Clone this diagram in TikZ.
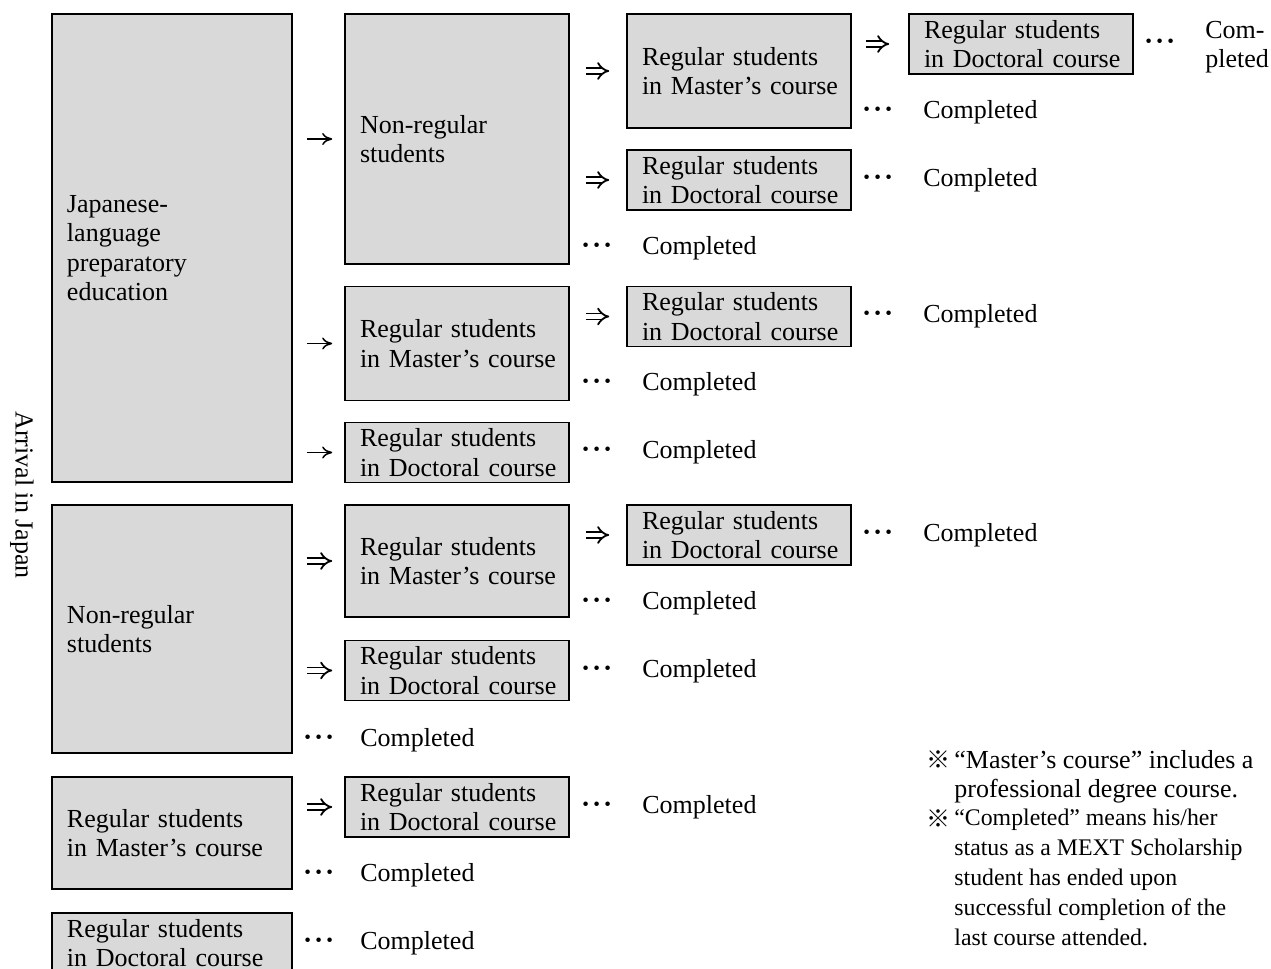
\documentclass[tikz,border=0pt]{standalone}
\usepackage{fontspec}
\setmainfont{Liberation Serif}
\newfontfamily\cjk{Noto Sans CJK JP}
\definecolor{mext_gray}{RGB}{217, 217, 217}
\usepackage{tikz}
\usetikzlibrary{arrows.meta}

\begin{document}
\begin{tikzpicture}[x=0.5pt, y=-0.5pt,
        box/.style={rectangle, draw=black, fill=mext_gray, line width=0.8pt,
                    text width=97pt, inner xsep=7.5pt, inner ysep=1pt, align=left,
                    font=\fontsize{13}{14.7}\selectfont},
        wide/.style={text width=105pt},
        lbl/.style={inner sep=0pt, anchor=west, align=left, font=\fontsize{13}{14.7}\selectfont},
        ellip/.style={inner sep=0pt, font=\fontsize{15}{15}\selectfont\boldmath},
        arr/.style={-{To[length=5pt, width=6pt]}, line width=0.75pt, shorten <=7pt, shorten >=6pt},
        darr/.style={double, double distance=2.1pt, line width=0.9pt, -{Implies}},
        note/.style={inner sep=0pt, anchor=north west, align=left},
        refmark/.style={inner sep=0pt, font=\cjk\fontsize{12}{12}\selectfont},
      ]
        \useasboundingbox (0,0) rectangle (1271,969);
        \clip (0,0) rectangle (1271,969);

        \node[rotate=-90, font=\fontsize{13}{14.7}\selectfont] (arrival) at (22,495) {Arrival in Japan};

        % first column
        \node[box, wide, minimum height=234pt] (jp) at (172,248)   {Japanese-\\language\\preparatory\\education};
        \node[box, wide, minimum height=124pt] (nr) at (172,629)   {Non-regular\\students};
        \node[box, wide, minimum height=56pt]  (ms) at (172,833)   {Regular students\\\mbox{in Master's course}};
        \node[box, wide, minimum height=30pt]  (dc) at (172,943)   {Regular students\\\mbox{in Doctoral course}};

        % second column
        \node[box, minimum height=125pt] (jpnr) at (457,139)   {Non-regular\\students};
        \node[box, minimum height=57pt]  (jpms) at (457,343.5) {Regular students\\\mbox{in Master's course}};
        \node[box, minimum height=30pt]  (jpdc) at (457,452.5) {Regular students\\\mbox{in Doctoral course}};
        \node[box, minimum height=56pt]  (nrms) at (457,561)   {Regular students\\\mbox{in Master's course}};
        \node[box, minimum height=30pt]  (nrdc) at (457,670.5) {Regular students\\\mbox{in Doctoral course}};
        \node[box, minimum height=30pt]  (msdc) at (457,807)   {Regular students\\\mbox{in Doctoral course}};

        % third and fourth column
        \node[box, minimum height=57pt] (jpnrms)   at (739,71)    {Regular students\\\mbox{in Master's course}};
        \node[box, minimum height=30pt] (jpnrdc)   at (739,180)   {Regular students\\\mbox{in Doctoral course}};
        \node[box, minimum height=30pt] (jpmsdc)   at (739,316.5) {Regular students\\\mbox{in Doctoral course}};
        \node[box, minimum height=30pt] (nrmsdc)   at (739,535)   {Regular students\\\mbox{in Doctoral course}};
        \node[box, minimum height=30pt] (jpnrmsdc) at (1021,44)   {Regular students\\\mbox{in Doctoral course}};

        \draw[arr] (jp.east |- jpnr) -- (jpnr);
        \draw[arr] (jp.east |- jpms) -- (jpms);
        \draw[arr] (jp.east |- jpdc) -- (jpdc);
        \draw[darr, shorten <=7pt, shorten >=6pt] (nr.east |- nrms) -- (nrms);
        \draw[darr, shorten <=7pt, shorten >=6pt] (nr.east |- nrdc) -- (nrdc);
        \draw[darr, shorten <=7pt, shorten >=6pt] (ms.east |- msdc) -- (msdc);
        \draw[darr, shorten <=8pt, shorten >=8.5pt] (jpnr.east |- jpnrms) -- (jpnrms);
        \draw[darr, shorten <=8pt, shorten >=8.5pt] (jpnr.east |- jpnrdc) -- (jpnrdc);
        \draw[darr, shorten <=8pt, shorten >=8.5pt] (jpms.east |- jpmsdc) -- (jpmsdc);
        \draw[darr, shorten <=8pt, shorten >=8.5pt] (nrms.east |- nrmsdc) -- (nrmsdc);
        \draw[darr, shorten <=7pt, shorten >=9.5pt] (jpnrms.east |- jpnrmsdc) -- (jpnrmsdc);

        % completed
        \node[ellip] (d1)  at (319,738)  {${\cdot}\mkern1mu{\cdot}\mkern1mu{\cdot}$};  \node[lbl] (c1)  at (360,740)  {Completed};
        \node[ellip] (d2)  at (319,873)  {${\cdot}\mkern1mu{\cdot}\mkern1mu{\cdot}$};  \node[lbl] (c2)  at (360,875)  {Completed};
        \node[ellip] (d3)  at (319,941)  {${\cdot}\mkern1mu{\cdot}\mkern1mu{\cdot}$};  \node[lbl] (c3)  at (360,943)  {Completed};
        \node[ellip] (d4)  at (597,246)  {${\cdot}\mkern1mu{\cdot}\mkern1mu{\cdot}$};  \node[lbl] (c4)  at (642,248)  {Completed};
        \node[ellip] (d5)  at (597,382)  {${\cdot}\mkern1mu{\cdot}\mkern1mu{\cdot}$};  \node[lbl] (c5)  at (642,384)  {Completed};
        \node[ellip] (d6)  at (597,450)  {${\cdot}\mkern1mu{\cdot}\mkern1mu{\cdot}$};  \node[lbl] (c6)  at (642,452)  {Completed};
        \node[ellip] (d7)  at (597,601)  {${\cdot}\mkern1mu{\cdot}\mkern1mu{\cdot}$};  \node[lbl] (c7)  at (642,603)  {Completed};
        \node[ellip] (d8)  at (597,669)  {${\cdot}\mkern1mu{\cdot}\mkern1mu{\cdot}$};  \node[lbl] (c8)  at (642,671)  {Completed};
        \node[ellip] (d9)  at (597,805)  {${\cdot}\mkern1mu{\cdot}\mkern1mu{\cdot}$};  \node[lbl] (c9)  at (642,807)  {Completed};
        \node[ellip] (d10) at (878,110)  {${\cdot}\mkern1mu{\cdot}\mkern1mu{\cdot}$};  \node[lbl] (c10) at (923,112)  {Completed};
        \node[ellip] (d11) at (878,178)  {${\cdot}\mkern1mu{\cdot}\mkern1mu{\cdot}$};  \node[lbl] (c11) at (923,180)  {Completed};
        \node[ellip] (d12) at (878,314)  {${\cdot}\mkern1mu{\cdot}\mkern1mu{\cdot}$};  \node[lbl] (c12) at (923,316)  {Completed};
        \node[ellip] (d13) at (878,533)  {${\cdot}\mkern1mu{\cdot}\mkern1mu{\cdot}$};  \node[lbl] (c13) at (923,535)  {Completed};
        \node[ellip] (d14) at (1160,42)  {${\cdot}\mkern1mu{\cdot}\mkern1mu{\cdot}$};  \node[lbl] (c14) at (1205,47)  {Com-\\pleted};

        % notes
        \node[refmark] (k1) at (938,760) {※};
        \node[refmark] (k2) at (938,819) {※};
        \node[note, font=\fontsize{13}{14.7}\selectfont] (n1) at (954,750)
          {``Master's course'' includes a\\professional degree course.};
        \node[note, font=\fontsize{11.9}{14.9}\selectfont] (n2) at (954,809)
          {``Completed'' means his/her\\status as a MEXT Scholarship\\student has ended upon\\successful completion of the\\last course attended.};
      \end{tikzpicture}
\end{document}
